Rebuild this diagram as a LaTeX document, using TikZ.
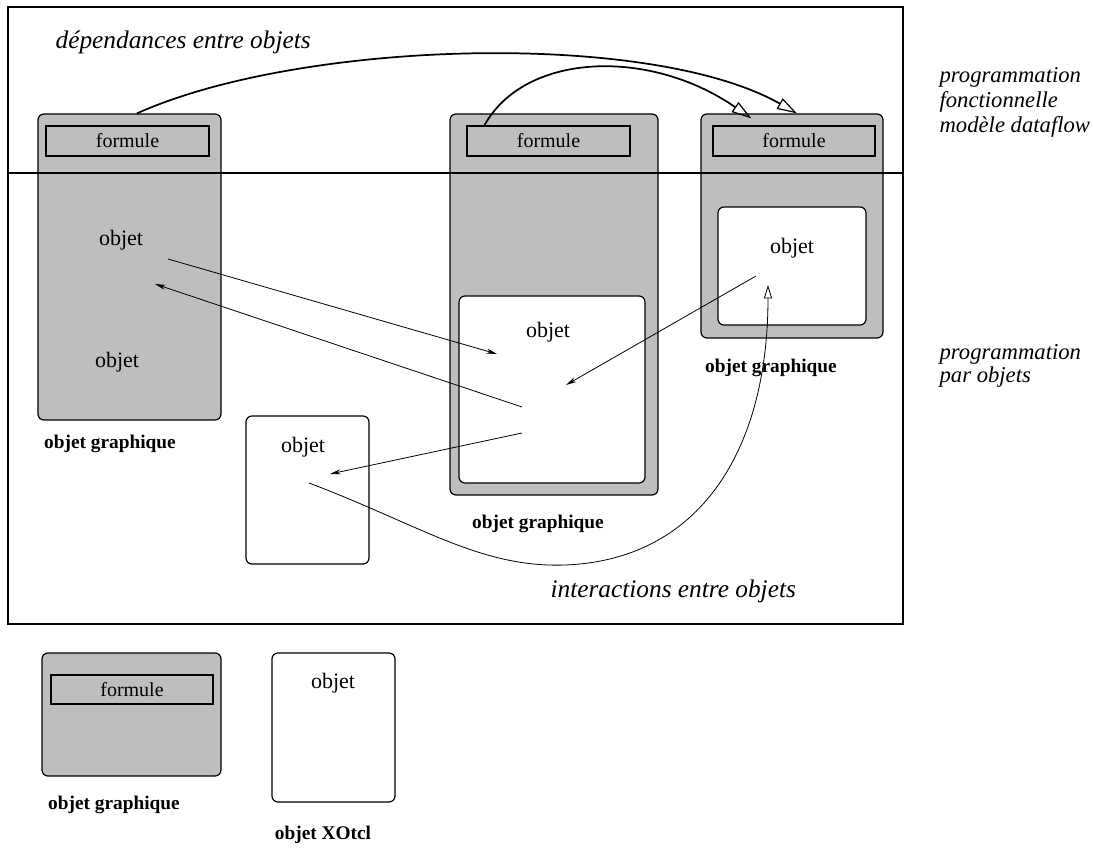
\documentclass[tikz,border=0pt]{standalone}
\usepackage{fontspec}
\setmainfont{Liberation Serif}
\usetikzlibrary{arrows.meta,calc}
\definecolor{figgray}{RGB}{190,190,190}
\newcommand\objfont{\fontsize{16.5}{19}\selectfont}
\newcommand\frmfont{\fontsize{15}{17}\selectfont}
\newcommand\lblfont{\fontsize{14.5}{17}\selectfont\bfseries}
\newcommand\notefont{\fontsize{19}{22}\selectfont\itshape}
\newcommand\sidefont{\fontsize{17}{18.5}\selectfont\itshape}

\begin{document}
\begin{tikzpicture}[
  x=0.75pt, y=-0.75pt,
  sz/.style 2 args={minimum width=#1*0.75pt, minimum height=#2*0.75pt},
  gbox/.style={draw, fill=figgray, rounded corners=4.5pt, line width=0.9pt, inner sep=0pt},
  wbox/.style={gbox, fill=white},
  frm/.style={draw, fill=figgray, line width=0.9pt, inner sep=0pt, sz={163}{30}, font=\frmfont},
  obj/.style={font=\objfont, inner sep=1pt},
  lbl/.style={font=\lblfont, inner sep=1pt},
  note/.style={font=\notefont, inner sep=1pt, anchor=west},
  side/.style={font=\sidefont, align=left, anchor=west, inner sep=1pt},
  arr/.style={-{Stealth[length=8pt,width=3.8pt]}, line width=0.6pt},
  dep/.style={-{Triangle[open,length=15pt,width=9pt,line width=0.9pt]}, line width=1.3pt}
]
\useasboundingbox (0,0) rectangle (1093,848);

%% cadre
\draw[line width=0.8pt] (8,7) rectangle (903,624);

%% objets graphiques
\node[gbox, sz={183}{306}] (ga) at (129.5,267) {};
\node[gbox, sz={208}{381}] (gb) at (554,304.5) {};
\node[gbox, sz={182}{224}] (gd) at (792,226) {};
\node[frm] (fa) at (127.5,141) {formule};
\node[frm] (fb) at (548.5,141) {formule};
\node[frm, minimum width=162*0.75pt] (fd) at (794,141) {formule};
\node[wbox, sz={186}{187}] (wb) at (552,389.5) {};
\node[wbox, sz={148}{118}] (wd) at (792,266) {};
\node[wbox, sz={123}{148}] (wc) at (307.5,490) {};

%% separation des deux niveaux
\draw[line width=0.8pt] (8,173) -- (903,173);

%% textes
\node[obj] (oa1) at (121,240) {objet};
\node[obj] (oa2) at (117,362) {objet};
\node[obj] (ob)  at (548,332) {objet};
\node[obj] (od)  at (792,248) {objet};
\node[obj] (oc)  at (303,447) {objet};

\node[lbl] (la) at (110,444) {objet graphique};
\node[lbl] (lb) at (538,524) {objet graphique};
\node[lbl] (ld) at (771,368) {objet graphique};

\node[note] (ndep) at (54,42)  {dépendances entre objets};
\node[note] (nint) at (549,591) {interactions entre objets};
\node[side] (nfonc) at (938,102.5) {programmation\\fonctionnelle\\modèle dataflow};
\node[side] (nobj)  at (938,366)  {programmation\\[-1.5pt]par objets};

%% legende
\node[gbox, sz={179}{123}] (lg) at (131.5,714.5) {};
\node[frm, sz={162}{29}] (lf) at (132,689.5) {formule};
\node[lbl] (llg) at (114,805) {objet graphique};
\node[wbox, sz={123}{149}] (lw) at (333.5,727.5) {};
\node[obj] (lo) at (333,683) {objet};
\node[lbl] (llw) at (323,835) {objet XOtcl};

%% points d'accroche des messages
\coordinate (pa1) at (168,259);
\coordinate (pa2) at (155,284);
\coordinate (pb1) at (497,354);
\coordinate (pb2) at (522,407);
\coordinate (pb3) at (522,433);
\coordinate (pb4) at (566,385);
\coordinate (pc1) at (330,474);
\coordinate (pc2) at (309,483);
\coordinate (pd1) at (756,276);
\coordinate (pd2) at (768,285);

%% interactions entre objets
\draw[arr] (pa1) -- (pb1);
\draw[arr] (pb2) -- (pa2);
\draw[arr] (pb3) -- (pc1);
\draw[arr] (pd1) -- (pb4);
\draw[line width=0.6pt, -{Triangle[open,length=10pt,width=6pt,line width=0.6pt]}]
  (pc2) .. controls (420,525) and (480,568) .. (565,565)
        .. controls (700,560) and (768,450) .. (pd2);

%% dependances (dataflow)
\draw[dep] ($(ga.north)+(7.5,0)$) .. controls (300,40) and (650,30) .. ($(gd.north)+(5,0)$);
\draw[dep] ($(fb.north west)+(18,0)$) .. controls (525,52) and (650,48) .. ($(gd.north west)+(51,5)$);

\end{tikzpicture}
\end{document}
